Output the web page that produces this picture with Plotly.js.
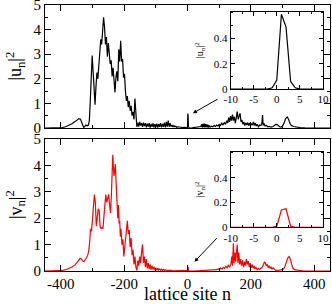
<!DOCTYPE html>
<html>
<head>
<meta charset="utf-8">
<script src="https://cdn.plot.ly/plotly-3.0.1.min.js"></script>
<style>html,body{margin:0;padding:0;background:#fff;}#chart{width:332px;height:304px;}</style>
</head>
<body>
<div id="chart"></div>
<script>
// |u_n|^2 on the full lattice (site n, value)
const uData = [
[-450,0],[-420,0],[-405,0.01],[-395,0.02],[-385,0.05],[-375,0.1],[-365,0.17],[-355,0.26],[-348,0.33],[-343,0.38],
[-338,0.36],[-334,0.26],[-331,0.12],[-328,0.03],[-325,0.05],[-321,0.12],[-317,0.09],[-313,0.12],[-310,0.3],[-307,1.1],
[-304,2.3],[-301,2.95],[-298,2.3],[-295,1.4],[-292,0.95],[-289,1.7],[-286,2.25],[-283,2.0],[-280,2.6],[-277,3.3],
[-274,3.6],[-271,3.4],[-268,3.9],[-265,4.5],[-262,4.1],[-259,3.4],[-256,3.7],[-253,2.9],[-250,3.45],[-247,2.9],
[-244,2.6],[-241,2.75],[-238,2.1],[-235,2.45],[-232,1.9],[-229,1.45],[-226,2.05],[-223,2.3],[-220,1.9],[-217,3.2],
[-214,2.7],[-211,3.55],[-208,2.7],[-205,2.8],[-202,2.05],[-199,2.2],[-196,1.5],[-193,1.1],[-190,1.3],[-187,0.85],
[-184,1.1],[-181,0.7],[-178,0.9],[-175,0.5],[-172,0.65],[-169,0.35],[-166,1.2],[-163,0.4],[-160,0.05],[-157,0.22],
[-154,0.06],[-151,0.25],[-148,0.1],[-145,0.2],[-142,0.05],[-139,0.22],[-136,0.08],[-133,0.2],[-130,0.03],[-127,0.18],
[-124,0.06],[-121,0.2],[-118,0.02],[-115,0.17],[-112,0.05],[-109,0.19],[-106,0.03],[-103,0.16],[-100,0.04],[-97,0.18],
[-94,0.02],[-91,0.16],[-88,0.05],[-85,0.2],[-82,0.03],[-79,0.17],[-76,0.05],[-73,0.22],[-70,0.02],[-67,0.25],
[-64,0.05],[-61,0.3],[-58,0.05],[-55,0.2],[-52,0.06],[-49,0.12],[-46,0.04],[-43,0.1],[-40,0.05],[-37,0.07],
[-34,0.03],[-30,0.05],[-25,0.03],[-20,0.04],[-15,0.02],[-10,0.03],[-5,0.01],[-2,0],[-1,0.01],[0,0.07],
[1,0.59],[2,0.49],[3,0.06],[4,0.01],[6,0],[15,0.01],[25,0.02],[35,0.03],[42,0.06],[45,0.15],
[47,0.02],[49,0.17],[51,0.03],[53,0.18],[55,0.02],[57,0.16],[59,0.04],[61,0.15],[63,0.03],[65,0.13],
[67,0.02],[69,0.1],[72,0.04],[76,0.07],[80,0.05],[84,0.1],[88,0.06],[92,0.12],[96,0.08],[100,0.15],
[104,0.1],[108,0.2],[112,0.12],[116,0.22],[120,0.15],[124,0.3],[127,0.2],[130,0.42],[133,0.25],[136,0.48],
[139,0.3],[142,0.55],[145,0.3],[148,0.45],[151,0.2],[154,0.42],[157,0.67],[160,0.35],[163,0.45],[166,0.6],
[169,0.25],[172,0.32],[175,0.15],[178,0.25],[181,0.1],[184,0.2],[187,0.12],[190,0.22],[193,0.1],[196,0.2],
[199,0.08],[202,0.18],[205,0.12],[208,0.25],[211,0.1],[214,0.2],[217,0.08],[220,0.15],[224,0.05],[228,0.12],
[232,0.1],[235,0.2],[237,0.53],[239,0.1],[242,0.18],[245,0.08],[249,0.1],[254,0.05],[259,0.06],[264,0.04],
[270,0.06],[275,0.1],[279,0.15],[283,0.14],[287,0.08],[291,0.05],[295,0.04],[300,0.08],[305,0.2],[310,0.38],
[315,0.45],[319,0.36],[323,0.2],[328,0.1],[335,0.06],[345,0.03],[355,0.02],[370,0.01],[390,0.005],[410,0],[450,0]
];

// |v_n|^2 on the full lattice (site n, value)
const vData = [
[-450,0],[-420,0],[-405,0.01],[-395,0.02],[-385,0.05],[-375,0.09],[-365,0.15],[-355,0.23],[-348,0.33],[-342,0.45],
[-339,0.48],[-335,0.46],[-331,0.38],[-327,0.36],[-323,0.42],[-319,0.5],[-315,0.6],[-312,0.75],[-309,1.1],[-306,1.6],
[-303,1.5],[-300,1.9],[-297,2.3],[-294,2.9],[-291,2.6],[-288,1.7],[-285,2.0],[-282,2.35],[-279,2.3],[-276,1.7],
[-273,1.6],[-270,1.65],[-267,1.6],[-264,2.2],[-261,2.5],[-258,2.9],[-255,2.6],[-252,2.75],[-249,2.9],[-246,2.5],
[-243,2.2],[-240,3.0],[-238,3.8],[-236,4.4],[-234,3.9],[-232,3.6],[-230,3.8],[-228,4.05],[-226,3.5],[-224,3.0],
[-222,2.4],[-220,2.0],[-218,2.5],[-216,1.8],[-214,1.9],[-212,1.3],[-210,1.6],[-207,1.0],[-204,1.2],[-201,0.55],
[-198,1.0],[-195,1.4],[-192,1.6],[-190,1.9],[-187,1.4],[-184,1.55],[-181,0.9],[-178,1.25],[-175,0.6],[-172,0.8],
[-169,0.25],[-166,0.55],[-163,0.15],[-160,0.02],[-157,0.4],[-154,0.2],[-151,0.55],[-148,0.3],[-145,0.7],[-142,1.0],
[-139,0.3],[-136,0.55],[-133,0.15],[-130,0.45],[-127,0.1],[-124,0.3],[-121,0.08],[-118,0.25],[-115,0.05],[-112,0.2],
[-109,0.06],[-106,0.15],[-103,0.04],[-100,0.12],[-97,0.03],[-94,0.1],[-91,0.04],[-88,0.08],[-85,0.03],[-82,0.07],
[-79,0.02],[-76,0.06],[-73,0.02],[-70,0.05],[-66,0.02],[-60,0.03],[-52,0.02],[-44,0.01],[-35,0.01],[-25,0],
[-15,0.01],[-8,0],[-3,0],[0,0.02],[1,0.14],[2,0.15],[3,0.02],[5,0],[20,0],[40,0.01],
[60,0.01],[75,0.02],[85,0.03],[92,0.05],[97,0.08],[101,0.05],[105,0.12],[109,0.07],[113,0.14],[117,0.1],
[121,0.18],[125,0.12],[129,0.22],[133,0.15],[137,0.25],[140,0.55],[142,0.2],[145,1.05],[147,0.3],[150,0.7],
[152,0.35],[155,0.8],[157,1.0],[159,0.3],[162,0.7],[165,0.25],[168,0.45],[171,0.2],[174,0.4],[177,0.15],
[180,0.35],[183,0.2],[186,0.45],[189,0.25],[192,0.38],[195,0.15],[198,0.3],[201,0.12],[204,0.25],[207,0.1],
[210,0.2],[213,0.08],[216,0.15],[220,0.05],[224,0.1],[228,0.06],[232,0.1],[236,0.15],[240,0.25],[243,0.35],
[246,0.3],[249,0.2],[252,0.25],[255,0.12],[258,0.2],[261,0.1],[264,0.15],[267,0.08],[270,0.12],[274,0.05],
[278,0.03],[285,0.02],[295,0.03],[302,0.06],[307,0.15],[312,0.35],[317,0.5],[321,0.55],[325,0.45],[329,0.25],
[333,0.1],[340,0.04],[350,0.02],[365,0.01],[385,0],[450,0]
];

// insets: sites -10..10
const insetSites = [-10,-9,-8,-7,-6,-5,-4,-3,-2,-1,0,1,2,3,4,5,6,7,8,9,10];
const uInset = [0,0,0,0,0,0,0,0,0,0.01,0.07,0.59,0.49,0.06,0.01,0,0,0,0,0,0];
const vInset = [0,0,0,0,0,0,0,0,0,0,0.01,0.14,0.15,0.01,0,0,0,0,0,0,0];

// tick labels
const mainXTicks = [-400,-200,0,200,400];
const mainXText = ['-400','-200','0','200','400'];
const insetXTicks = [-10,-5,0,5,10];
const insetXText = ['-10','-5','0','5','10'];
const insetYTicks = [0,0.2,0.4];
const insetYText = ['0','0.2','0.4'];

const uSite = uData.map(p => p[0]), uVal = uData.map(p => p[1]);
const vSite = vData.map(p => p[0]), vVal = vData.map(p => p[1]);

const serif = 'Liberation Serif, Times New Roman, serif';

const traces = [
  {x: uSite, y: uVal, xaxis: 'x2', yaxis: 'y2', type: 'scatter', mode: 'lines', line: {color: 'black', width: 1.2}},
  {x: vSite, y: vVal, xaxis: 'x', yaxis: 'y', type: 'scatter', mode: 'lines', line: {color: 'red', width: 1.2}},
  {x: insetSites, y: uInset, xaxis: 'x3', yaxis: 'y3', type: 'scatter', mode: 'lines', line: {color: 'black', width: 1.2}},
  {x: insetSites, y: vInset, xaxis: 'x4', yaxis: 'y4', type: 'scatter', mode: 'lines', line: {color: 'red', width: 1.2}}
];

function frameAxis(extra) {
  return Object.assign({
    showline: true, linecolor: 'black', linewidth: 1, mirror: 'ticks',
    ticks: 'inside', ticklen: 6, tickwidth: 1, tickcolor: 'black',
    showgrid: false, zeroline: false, fixedrange: true, ticklabeloverflow: 'allow'
  }, extra);
}

const layout = {
  width: 332, height: 304,
  margin: {l: 45, r: 2, t: 5, b: 33},
  paper_bgcolor: 'white', plot_bgcolor: 'white',
  showlegend: false,
  font: {family: serif, color: 'black', size: 15},
  xaxis: frameAxis({
    domain: [0, 1], anchor: 'y', range: [-450, 450],
    tickmode: 'array', tickvals: mainXTicks, ticktext: mainXText,
    minor: {tickmode: 'linear', tick0: 0, dtick: 100, ticks: 'inside', ticklen: 3, tickcolor: 'black'},
    tickfont: {size: 15}, ticklabelstandoff: -1,
    title: {text: 'lattice site n', font: {size: 18}, standoff: 6}
  }),
  yaxis: frameAxis({
    domain: [0, 0.4962], anchor: 'x', range: [0, 5], dtick: 1,
    minor: {dtick: 0.5, ticks: 'inside', ticklen: 3, tickcolor: 'black'},
    tickfont: {size: 15}
  }),
  xaxis2: frameAxis({
    domain: [0, 1], anchor: 'y2', range: [-450, 450],
    tickmode: 'array', tickvals: mainXTicks, ticktext: mainXText, showticklabels: false,
    minor: {tickmode: 'linear', tick0: 0, dtick: 100, ticks: 'inside', ticklen: 3, tickcolor: 'black'}
  }),
  yaxis2: frameAxis({
    domain: [0.5376, 1], anchor: 'x2', range: [0, 5], dtick: 1,
    minor: {dtick: 0.5, ticks: 'inside', ticklen: 3, tickcolor: 'black'},
    tickfont: {size: 15}
  }),
  xaxis3: frameAxis({
    domain: [0.6516, 0.975], anchor: 'y3', range: [-10, 10],
    tickmode: 'array', tickvals: insetXTicks, ticktext: insetXText, ticklen: 4,
    minor: {tickmode: 'linear', tick0: 0, dtick: 2.5, ticks: 'inside', ticklen: 2, tickcolor: 'black'},
    tickfont: {size: 11}
  }),
  yaxis3: frameAxis({
    domain: [0.684, 0.975], anchor: 'x3', range: [0, 0.61],
    tickmode: 'array', tickvals: insetYTicks, ticktext: insetYText, ticklen: 4,
    minor: {tickmode: 'linear', tick0: 0, dtick: 0.1, ticks: 'inside', ticklen: 2, tickcolor: 'black'},
    tickfont: {size: 11},
    title: {text: '|u<sub>n</sub>|<sup>2</sup>', font: {size: 10}, standoff: 8}
  }),
  xaxis4: frameAxis({
    domain: [0.6516, 0.975], anchor: 'y4', range: [-10, 10],
    tickmode: 'array', tickvals: insetXTicks, ticktext: insetXText, ticklen: 4,
    minor: {tickmode: 'linear', tick0: 0, dtick: 2.5, ticks: 'inside', ticklen: 2, tickcolor: 'black'},
    tickfont: {size: 11}
  }),
  yaxis4: frameAxis({
    domain: [0.164, 0.4485], anchor: 'x4', range: [0, 0.61],
    tickmode: 'array', tickvals: insetYTicks, ticktext: insetYText, ticklen: 4,
    minor: {tickmode: 'linear', tick0: 0, dtick: 0.1, ticks: 'inside', ticklen: 2, tickcolor: 'black'},
    tickfont: {size: 11},
    title: {text: '|v<sub>n</sub>|<sup>2</sup>', font: {size: 10}, standoff: 8}
  }),
  annotations: [
    {xref: 'paper', yref: 'paper', x: -0.105, y: 0.7688, xanchor: 'center', yanchor: 'middle',
     textangle: -90, showarrow: false, text: '|u<sub>n</sub>|<sup>2</sup>', font: {size: 18}},
    {xref: 'paper', yref: 'paper', x: -0.105, y: 0.2481, xanchor: 'center', yanchor: 'middle',
     textangle: -90, showarrow: false, text: '|v<sub>n</sub>|<sup>2</sup>', font: {size: 18}},
    {xref: 'x2', yref: 'y2', axref: 'x2', ayref: 'y2', x: 17, y: 0.6, ax: 100, ay: 1.21,
     text: '', showarrow: true, arrowhead: 2, arrowsize: 0.8, arrowwidth: 1, arrowcolor: 'black'},
    {xref: 'x', yref: 'y', axref: 'x', ayref: 'y', x: 22, y: 0.35, ax: 97, ay: 1.3,
     text: '', showarrow: true, arrowhead: 2, arrowsize: 0.8, arrowwidth: 1, arrowcolor: 'black'}
  ]
};

Plotly.newPlot('chart', traces, layout, {staticPlot: true, displayModeBar: false});
</script>
</body>
</html>
